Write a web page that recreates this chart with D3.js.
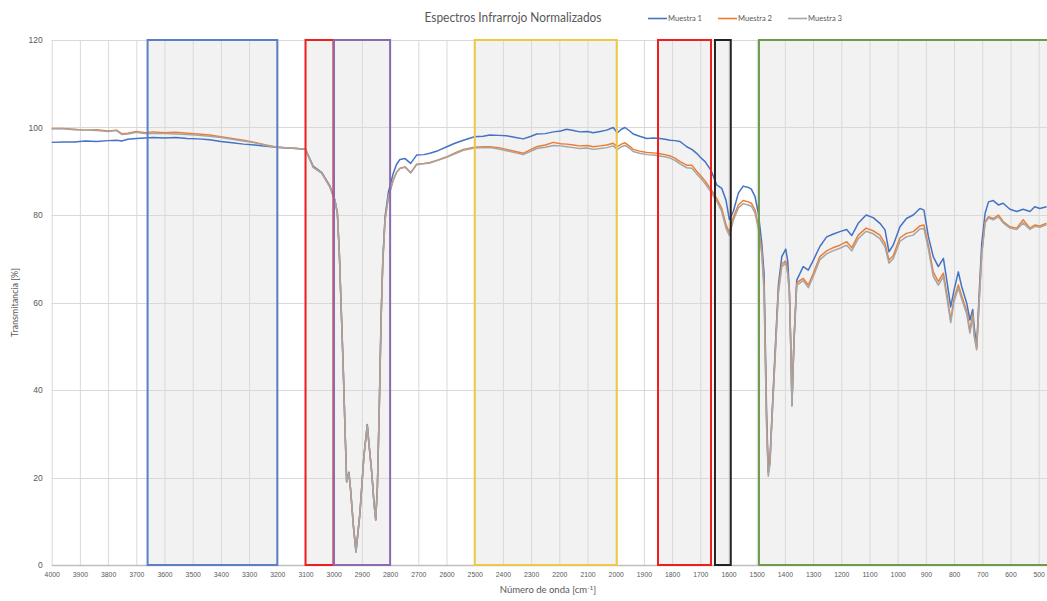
<!DOCTYPE html>
<html>
<head>
<meta charset="utf-8">
<script src="https://cdn.jsdelivr.net/npm/d3@7/dist/d3.min.js"></script>
<style>
  html, body { margin: 0; padding: 0; background: #ffffff; }
  svg { display: block; font-family: Lato, "Open Sans", "Liberation Sans", sans-serif; }
</style>
</head>
<body>
<svg id="chart" width="1047" height="601"></svg>
<script>
// Número de onda (cm-1) and normalized transmittance (%) for each sample
const numeroOnda = [
  4000,3960,3920,3880,3840,3800,3770,3752,3730,3700,
  3670,3640,3600,3560,3520,3480,3440,3400,3360,3320,
  3280,3240,3200,3160,3130,3100,3073,3042,3013,2996,
  2987,2980,2974,2966,2959,2954,2946,2940,2930,2921,
  2907,2893,2881,2874,2865,2857,2851,2845,2838,2832,
  2826,2818,2806,2789,2777,2765,2747,2727,2706,2680,
  2659,2630,2599,2570,2540,2501,2470,2446,2415,2387,
  2355,2328,2300,2280,2250,2221,2195,2174,2150,2127,
  2100,2080,2055,2032,2009,1994,1980,1967,1950,1938,
  1915,1890,1865,1843,1825,1807,1790,1772,1748,1730,
  1713,1700,1683,1665,1660,1642,1624,1609,1597,1583,
  1565,1548,1530,1519,1506,1494,1482,1474,1465,1459,
  1453,1447,1435,1423,1411,1397,1390,1384,1378,1375,
  1368,1358,1352,1335,1317,1299,1276,1252,1230,1205,
  1181,1163,1140,1112,1087,1063,1045,1031,1016,992,
  969,945,921,907,891,874,856,838,826,812,
  800,785,773,755,744,734,729,720,711,702,
  690,678,661,643,626,602,578,555,531,514,
  496,472
];

const muestra1 = [
  96.6,96.7,96.7,96.9,96.8,97.0,97.1,96.9,97.3,97.5,
  97.6,97.7,97.6,97.7,97.5,97.4,97.2,96.8,96.5,96.2,
  96.0,95.7,95.5,95.3,95.2,95.0,91.2,89.7,86.6,83.5,
  80.5,71.3,59.9,44.7,29.4,19.1,21.2,17.2,8.9,3.1,
  11.9,24.9,32.1,27.1,21.1,14.2,10.4,18.0,37.2,56.3,
  69.5,79.6,85.2,89.5,91.6,92.7,92.9,91.8,93.7,93.8,
  94.1,94.7,95.6,96.4,97.1,97.9,98.0,98.3,98.2,98.1,
  97.7,97.4,98.0,98.5,98.6,99.0,99.2,99.6,99.3,99.0,
  99.1,98.8,99.1,99.4,100.0,98.8,99.6,100.0,99.2,98.5,
  98.0,97.5,97.6,97.5,97.3,97.1,97.0,96.8,95.6,95.0,
  94.1,93.2,92.2,90.5,89.9,86.9,86.1,83.4,79.0,80.8,
  85.0,86.6,86.3,85.9,84.2,80.4,73.5,66.7,35.0,21.5,
  24.0,32.5,48.5,64.0,70.5,72.2,69.5,62.5,47.0,36.6,
  51.0,65.1,65.9,68.2,67.4,69.7,72.8,75.0,75.6,76.2,
  76.7,75.3,78.1,80.0,79.4,78.1,76.6,71.6,73.1,77.3,
  79.2,80.0,81.5,81.1,75.0,70.5,68.2,70.1,65.1,59.0,
  62.9,67.0,63.6,59.8,56.0,58.4,54.5,49.9,62.1,73.5,
  80.4,83.0,83.3,82.3,82.7,81.3,80.8,81.3,80.8,81.9,
  81.5,81.9
];

const muestra2 = [
  99.8,99.8,99.6,99.4,99.5,99.2,99.4,98.6,98.7,99.1,
  98.8,99.0,98.8,98.9,98.7,98.5,98.3,97.9,97.5,97.1,
  96.6,96.0,95.5,95.3,95.2,95.0,91.0,89.6,86.4,83.4,
  80.4,71.2,59.8,44.6,29.3,19.0,21.1,17.1,8.8,3.0,
  11.8,24.8,32.0,27.0,21.0,14.1,10.3,17.9,37.0,56.0,
  69.0,78.9,84.2,88.0,89.8,90.7,91.0,89.7,91.6,91.8,
  92.0,92.6,93.3,94.2,95.0,95.5,95.6,95.6,95.4,95.0,
  94.5,94.1,95.0,95.6,96.0,96.6,96.3,96.2,96.0,95.8,
  95.9,95.6,95.8,96.0,96.4,95.6,96.2,96.5,95.7,95.0,
  94.6,94.3,94.2,94.0,93.8,93.5,93.0,92.2,91.4,91.4,
  90.0,89.1,87.8,86.1,85.6,83.8,81.5,77.8,76.0,79.5,
  82.3,83.3,83.0,82.7,81.2,77.5,72.0,64.0,33.0,21.0,
  23.5,32.0,47.5,63.0,68.8,69.5,67.0,62.3,47.0,36.6,
  50.8,64.4,64.8,65.5,64.0,66.7,70.5,71.8,72.5,73.1,
  73.9,72.5,75.4,77.0,76.4,75.4,73.5,69.7,70.7,74.8,
  75.8,76.2,77.5,77.7,73.0,67.0,64.8,66.7,62.1,56.0,
  61.0,64.0,61.5,58.0,53.5,57.5,53.0,49.5,60.6,71.2,
  78.5,79.6,79.2,80.0,78.5,77.3,77.0,78.9,77.0,77.7,
  77.5,78.1
];

const muestra3 = [
  99.7,99.7,99.5,99.4,99.3,99.1,99.3,98.4,98.5,98.9,
  98.6,98.7,98.6,98.5,98.4,98.2,98.0,97.7,97.3,96.9,
  96.5,95.9,95.5,95.3,95.2,95.0,90.9,89.5,86.3,83.3,
  80.3,71.1,59.7,44.5,29.2,18.9,21.0,17.0,8.7,2.9,
  11.7,24.7,31.9,26.9,20.9,14.0,10.2,17.8,36.9,55.9,
  68.9,78.8,84.1,87.9,89.7,90.6,90.9,89.6,91.5,91.7,
  91.9,92.5,93.2,94.0,94.8,95.3,95.4,95.4,95.1,94.7,
  94.2,93.8,94.6,95.2,95.5,95.9,95.8,95.6,95.4,95.2,
  95.3,95.0,95.2,95.4,95.8,95.0,95.6,95.9,95.2,94.5,
  94.1,93.8,93.7,93.5,93.3,93.0,92.5,91.7,90.8,90.7,
  89.4,88.5,87.2,85.5,85.0,83.2,80.8,77.0,75.3,78.8,
  81.6,82.6,82.3,82.0,80.5,76.8,71.0,62.5,31.6,20.3,
  23.0,31.6,46.9,62.1,68.2,69.0,66.5,62.1,46.9,36.3,
  50.7,64.0,64.2,65.0,63.4,66.0,69.8,71.1,71.8,72.4,
  73.1,71.8,74.6,76.3,75.7,74.6,72.7,69.0,70.0,74.0,
  75.0,75.4,76.8,76.9,72.2,66.0,64.0,65.9,61.3,55.4,
  60.3,63.3,60.8,57.3,53.0,56.8,52.4,49.2,60.2,70.8,
  78.2,79.3,78.9,79.6,78.2,77.0,76.7,78.2,76.7,77.4,
  77.2,77.8
];

const nombresSeries = ["Muestra 1", "Muestra 2", "Muestra 3"];

// Highlighted absorption regions [from, to] in cm-1
const bandas = [
  [3660, 3200],
  [3100, 3001],
  [2999, 2800],
  [2500, 1996],
  [1850, 1662],
  [1648, 1592],
  [1492, 380]
];

const xTicks = d3.range(4000, 400, -100);
const yTicks = [0, 20, 40, 60, 80, 100, 120];

const textos = {
  titulo: "Espectros Infrarrojo Normalizados",
  ejeY: "Transmitancia [%]",
  ejeX: "Número de onda [cm",
  ejeXSup: "-1",
  ejeXFin: "]"
};

// ---- drawing ----
const seriesColors = ["#4472C4", "#ED7D31", "#A5A5A5"];
const bandColors = ["#5B7FC7", "#F01E1E", "#8A6BB1", "#EEC948", "#F01E1E", "#222222", "#6F9A4C"];
const textColor = "#595959";

const svg = d3.select("#chart");
const W = 1047, H = 601;
svg.append("rect").attr("width", W).attr("height", H).attr("fill", "#ffffff");

const x = d3.scaleLinear().domain([4000, 400]).range([51.7, 1066.9]);
const y = d3.scaleLinear().domain([0, 120]).range([565, 40]);

svg.append("defs").append("clipPath").attr("id", "plotClip")
  .append("rect").attr("x", 0).attr("y", 0).attr("width", W).attr("height", H);

const plot = svg.append("g").attr("clip-path", "url(#plotClip)");

// band fills
plot.append("g").selectAll("rect").data(bandas).join("rect")
  .attr("x", d => x(d[0]))
  .attr("y", y(120))
  .attr("width", d => x(d[1]) - x(d[0]))
  .attr("height", y(0) - y(120))
  .attr("fill", "#ebebeb")
  .attr("fill-opacity", 0.65);

// gridlines
const grid = plot.append("g");
grid.selectAll("line.v").data(xTicks).join("line")
  .attr("class", "v")
  .attr("x1", d => x(d) + 0.5).attr("x2", d => x(d) + 0.5)
  .attr("y1", y(120)).attr("y2", y(0))
  .attr("stroke", "#d9d9d9").attr("stroke-width", 1);
grid.selectAll("line.h").data(yTicks).join("line")
  .attr("class", "h")
  .attr("x1", x(4000)).attr("x2", W)
  .attr("y1", d => Math.round(y(d)) + 0.5).attr("y2", d => Math.round(y(d)) + 0.5)
  .attr("stroke", d => d === 0 ? "#bfbfbf" : "#d9d9d9").attr("stroke-width", d => d === 0 ? 1.3 : 1);

// spectra
const seriesData = [muestra1, muestra2, muestra3];
const line = d3.line()
  .x((d, i) => x(numeroOnda[i]))
  .y(d => y(d))
  .curve(d3.curveLinear);

plot.append("g").selectAll("path").data(seriesData).join("path")
  .attr("d", d => line(d))
  .attr("fill", "none")
  .attr("stroke", (d, i) => seriesColors[i])
  .attr("stroke-width", 1.5)
  .attr("stroke-linejoin", "round");

// band outlines
plot.append("g").selectAll("rect").data(bandas).join("rect")
  .attr("x", d => x(d[0]))
  .attr("y", y(120))
  .attr("width", d => x(d[1]) - x(d[0]))
  .attr("height", y(0) - y(120))
  .attr("fill", "none")
  .attr("stroke", (d, i) => bandColors[i])
  .attr("stroke-width", 2);

// x axis tick labels
const xAxis = d3.axisBottom(x).tickValues(xTicks).tickFormat(d3.format("d")).tickSize(0).tickPadding(6);
const gx = svg.append("g").attr("transform", `translate(0,${y(0)})`).call(xAxis);
gx.select(".domain").remove();
gx.selectAll("text")
  .attr("fill", textColor)
  .style("font-size", "8px")
  .attr("textLength", d => String(d).length * 3.8)
  .attr("lengthAdjust", "spacingAndGlyphs");

// y axis tick labels
const yAxis = d3.axisLeft(y).tickValues(yTicks).tickSize(0).tickPadding(9);
const gy = svg.append("g").attr("transform", `translate(${x(4000)},0)`).call(yAxis);
gy.select(".domain").remove();
gy.selectAll("text").attr("fill", textColor).style("font-size", "8.5px");

// title
svg.append("text")
  .attr("x", 513).attr("y", 22)
  .attr("text-anchor", "middle")
  .attr("fill", textColor)
  .style("font-size", "12.5px")
  .attr("textLength", 177)
  .attr("lengthAdjust", "spacingAndGlyphs")
  .text(textos.titulo);

// legend
const legendX = [648, 718, 788];
const legend = svg.append("g");
nombresSeries.forEach((name, i) => {
  legend.append("line")
    .attr("x1", legendX[i]).attr("x2", legendX[i] + 19)
    .attr("y1", 18.5).attr("y2", 18.5)
    .attr("stroke", seriesColors[i]).attr("stroke-width", 1.6);
  legend.append("text")
    .attr("x", legendX[i] + 20).attr("y", 21)
    .attr("fill", textColor)
    .style("font-size", "7.5px")
    .attr("textLength", 34)
    .attr("lengthAdjust", "spacingAndGlyphs")
    .text(name);
});

// axis titles
svg.append("text")
  .attr("transform", `translate(18,${y(60)}) rotate(-90)`)
  .attr("text-anchor", "middle")
  .attr("fill", textColor)
  .style("font-size", "9px")
  .text(textos.ejeY);

const xt = svg.append("text")
  .attr("x", 548).attr("y", 593)
  .attr("text-anchor", "middle")
  .attr("fill", textColor)
  .style("font-size", "9.5px");
xt.append("tspan").text(textos.ejeX);
xt.append("tspan").attr("dy", -3.5).style("font-size", "6.5px").text(textos.ejeXSup);
xt.append("tspan").attr("dy", 3.5).text(textos.ejeXFin);
</script>
</body>
</html>
